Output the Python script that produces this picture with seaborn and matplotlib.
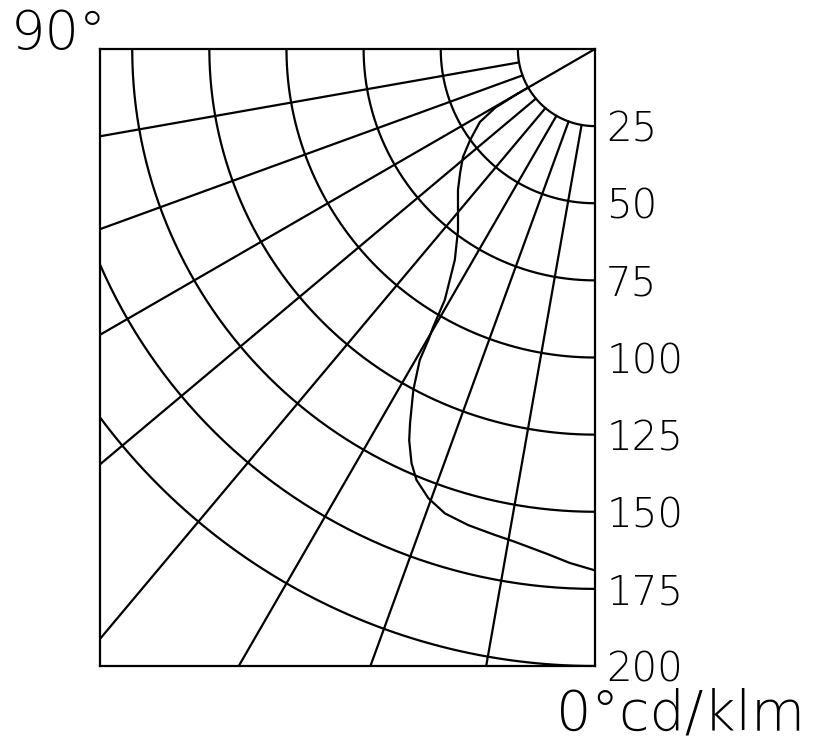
import numpy as np
import pandas as pd
import matplotlib
matplotlib.use("Agg")
from matplotlib import pyplot as plt
import seaborn as sns

# luminous intensity curve, angle from nadir (deg) and cd/klm
curve_angle = [0, 2.8, 5.4, 9.3, 11.7, 14.9, 17.9, 20.35, 22.5, 23.9, 25.4, 26.3, 28.05, 29.4, 29.8, 30.2, 30.9,
               33.6, 37.1, 44.2, 47.4, 50.7, 53.9, 57.6, 59.5, 60, 60]
curve_value = [169, 166.8, 164.4, 161.8, 160.8, 159.7, 158.2, 155.3, 151.2, 146.8, 140.4, 135.3, 125.2, 115.7, 108.7, 104.3, 94.8,
               82.1, 73.6, 63.7, 59.4, 55.3, 50.1, 44.2, 37.6, 29, 0]

# grid
radii = [25, 50, 75, 100, 125, 150, 175, 200]
radial_angles = [10, 20, 30, 40, 50, 60, 70, 80]
radius_labels = ['25', '50', '75', '100', '125', '150', '175', '200']

sns.set_theme(style='white')
plt.rcParams['font.family'] = ['DejaVu Sans']
plt.rcParams['text.color'] = 'black'

fig = plt.figure(figsize=(8.36, 7.47), dpi=100)
ax = fig.add_axes([0.1196, 0.1084, 0.5921, 0.826])

def to_xy(theta_deg, r):
    t = np.radians(np.asarray(theta_deg, dtype=float))
    r = np.asarray(r, dtype=float)
    return -r * np.sin(t), -r * np.cos(t)

lw = 1.6
# circles
sweep = np.linspace(0, 90, 200)
for rr in radii:
    x, y = to_xy(sweep, np.full_like(sweep, rr))
    ax.plot(x, y, color='black', lw=lw)

# radial lines, starting at the first circle
for a in radial_angles:
    x, y = to_xy([a, a], [radii[0], 400])
    ax.plot(x, y, color='black', lw=lw)

cx, cy = to_xy(curve_angle, curve_value)
df = pd.DataFrame({'x': cx, 'y': cy})
sns.lineplot(data=df, x='x', y='y', sort=False, estimator=None, color='black', lw=lw, ax=ax)

ax.set_xlim(-160.45, 0)
ax.set_ylim(-200, 0)
ax.set_xlabel('')
ax.set_ylabel('')
ax.set_xticks([])
ax.yaxis.tick_right()
ax.set_yticks([-r for r in radii])
ax.set_yticklabels(radius_labels, fontsize=29, fontweight='light')
ax.tick_params(axis='y', length=0, pad=8, labelcolor='black')
for s in ax.spines.values():
    s.set_visible(True)
    s.set_color('black')
    s.set_linewidth(lw)

fig.text(0.013, 0.935, '90°', fontsize=39, fontweight='light', ha='left', va='baseline')
fig.text(0.665, 0.007, '0°cd/klm', fontsize=40, fontweight='light', ha='left', va='bottom')

fig.savefig('out.png', dpi=100, facecolor='white')
